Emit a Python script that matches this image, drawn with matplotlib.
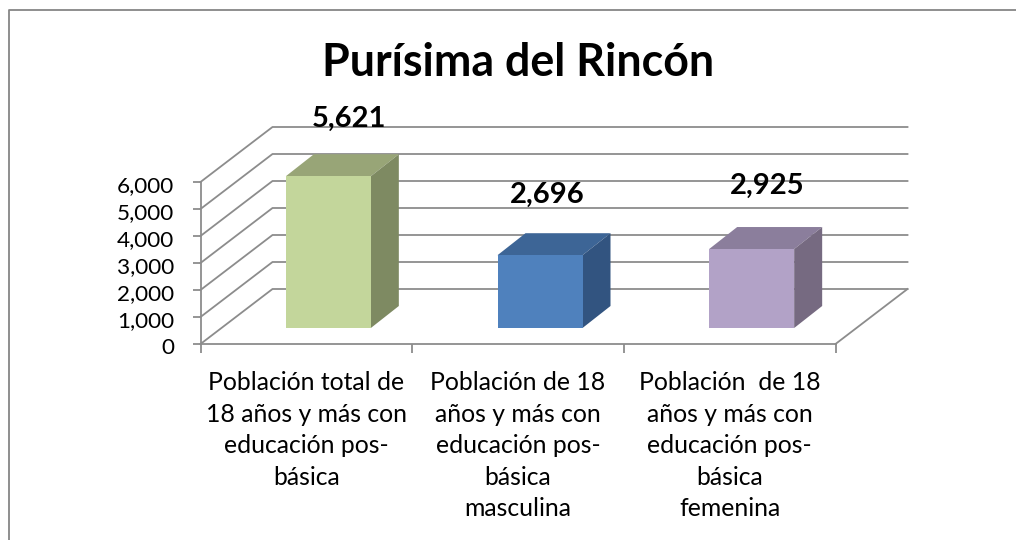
import matplotlib
matplotlib.use("Agg")
import matplotlib.pyplot as plt
from matplotlib.patches import Polygon
from matplotlib.transforms import ScaledTranslation

plt.rcParams["font.family"] = ["Lato", "DejaVu Sans"]

title = "Purísima del Rincón"
categories = [
    "Población total de\n18 años y más con\neducación pos-\nbásica",
    "Población de 18\naños y más con\neducación pos-\nbásica\nmasculina",
    "Población  de 18\naños y más con\neducación pos-\nbásica\nfemenina",
]
values = [5621, 2696, 2925]
front_colors = ["#c3d69b", "#4f81bd", "#b2a2c7"]
top_colors = ["#98a577", "#3d6596", "#8b7e9c"]
side_colors = ["#7e8a62", "#325480", "#766a81"]
y_ticks = [0, 1000, 2000, 3000, 4000, 5000, 6000]

W, H = 1016, 540
PX_X = 3 / 635
PX_Y = 6000 / 162
grid_color = "#8c8c8c"

fig = plt.figure(figsize=(W / 100, H / 100), dpi=100)
fig.add_artist(plt.Line2D([8.5 / W, 8.5 / W, 1], [0, 530.5 / H, 530.5 / H], color="#868686", lw=1.3))

ax = fig.add_axes([200.5 / W, (H - 344) / H, 635 / W, 162 / H])
ax.set_xlim(0, 3)
ax.set_ylim(0, 6000)
for s in ["top", "right"]:
    ax.spines[s].set_visible(False)
for s in ["left", "bottom"]:
    ax.spines[s].set_color(grid_color)
    ax.spines[s].set_linewidth(1.3)

back_x = 72 * PX_X
back_y = 55 * PX_Y
for v in y_ticks:
    # side wall and back wall gridlines
    ax.plot([0, back_x, 3 + back_x], [v, v + back_y, v + back_y], color=grid_color, lw=1.3, clip_on=False, zorder=1)
# floor
ax.plot([3, 3 + back_x], [0, back_y], color=grid_color, lw=1.3, clip_on=False, zorder=1)

off_x = 22 * PX_X
off_y = 16 * PX_Y
bar_w = 85 * PX_X
dep_x = 28 * PX_X
dep_y = 22 * PX_Y

for i, v in enumerate(values):
    x0 = i + 0.5 + off_x - bar_w / 2
    x1 = x0 + bar_w
    y0 = off_y
    y1 = off_y + v
    ax.bar(x0, v, width=bar_w, bottom=y0, align="edge", color=front_colors[i], zorder=4, clip_on=False)
    ax.add_patch(Polygon([(x0, y1), (x1, y1), (x1 + dep_x, y1 + dep_y), (x0 + dep_x, y1 + dep_y)],
                         closed=True, fc=top_colors[i], ec="none", zorder=3, clip_on=False))
    ax.add_patch(Polygon([(x1, y0), (x1, y1), (x1 + dep_x, y1 + dep_y), (x1 + dep_x, y0 + dep_y)],
                         closed=True, fc=side_colors[i], ec="none", zorder=3, clip_on=False))

data_label_pos = [(349, 119), (547, 195), (767, 186)]
for (px, py), v in zip(data_label_pos, values):
    fig.text(px / W, (H - py) / H, f"{v:,}", ha="center", va="center", fontsize=21, fontweight="bold", color="black", zorder=6)

ax.set_yticks(y_ticks, [f"{v:,}" for v in y_ticks], fontsize=16.2)
ax.set_xticks([0, 1, 2, 3], [""] * 4)
ax.set_xticks([0.5, 1.5, 2.5], categories, minor=True, fontsize=17.8, linespacing=1.45)
ax.tick_params(axis="x", which="minor", length=0, pad=19.5)
ax.tick_params(axis="x", which="major", length=6.5, color=grid_color, width=1.3)
ax.tick_params(axis="y", length=6, color=grid_color, width=1.3, pad=13)

# the value labels sit a little under their ticks
nudge = ScaledTranslation(0, -2 / 100, fig.dpi_scale_trans)
for lab in ax.get_yticklabels():
    lab.set_transform(lab.get_transform() + nudge)

fig.text(518 / W, (H - 63) / H, title, ha="center", va="center", fontsize=32.2, fontweight="bold")

fig.savefig("out.png", dpi=100)
plt.close(fig)
